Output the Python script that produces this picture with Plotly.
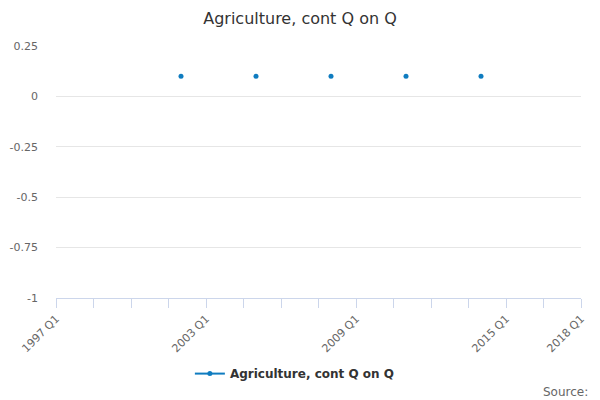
import plotly.graph_objects as go

# Categories: quarters 1997 Q1 .. 2018 Q1
years = list(range(1997, 2019))
quarters = [f"{y} Q{q}" for y in years for q in range(1, 5)]
quarters = quarters[: quarters.index("2018 Q1") + 1]

# Non-missing observations (all other quarters are empty)
obs_quarters = ["2002 Q1", "2005 Q1", "2008 Q1", "2011 Q1", "2014 Q1"]
obs_values = [0.1, 0.1, 0.1, 0.1, 0.1]

series_name = "Agriculture, cont Q on Q"
tick_quarters = ["1997 Q1", "2003 Q1", "2009 Q1", "2015 Q1", "2018 Q1"]
y_ticks = [0.25, 0, -0.25, -0.5, -0.75, -1]
y_tick_labels = ["0.25", "0", "-0.25", "-0.5", "-0.75", "-1"]

lookup = dict(zip(obs_quarters, obs_values))
x_idx = list(range(len(quarters)))
values = [lookup.get(q) for q in quarters]

tickvals = list(range(0, len(quarters), 6))
ticktext = [quarters[i] if quarters[i] in tick_quarters else "" for i in tickvals]

font = "DejaVu Sans, Verdana, sans-serif"
blue = "#0f7cc0"

fig = go.Figure()
fig.add_trace(go.Scatter(
    x=x_idx, y=values, name=series_name,
    mode="lines+markers", connectgaps=False,
    line=dict(color=blue, width=2),
    marker=dict(color=blue, size=5),
    showlegend=True,
))

fig.update_layout(
    width=600, height=400,
    margin=dict(l=56, r=19, t=46, b=102, autoexpand=False),
    paper_bgcolor="white", plot_bgcolor="white",
    font=dict(family=font, color="#666666", size=11),
    title=dict(text=series_name, x=0.5, xanchor="center", y=0.955, yanchor="middle",
               font=dict(family=font, size=16, color="#333333")),
    xaxis=dict(
        range=[0, len(quarters) - 1], tickmode="array",
        tickvals=tickvals, ticktext=ticktext, tickangle=-45,
        ticks="outside", ticklen=9, tickcolor="#ccd6eb", tickwidth=1,
        showline=True, linecolor="#ccd6eb", linewidth=1,
        showgrid=False, zeroline=False, automargin=False,
        tickfont=dict(size=11, color="#666666"),
    ),
    yaxis=dict(
        range=[-1, 0.25], tickmode="array", tickvals=y_ticks, ticktext=y_tick_labels,
        showgrid=True, gridcolor="#e6e6e6", gridwidth=1, zeroline=False,
        showline=False, ticks="", ticklabelstandoff=17, automargin=False,
        tickfont=dict(size=11, color="#666666"),
    ),
    legend=dict(orientation="h", x=0.455, xanchor="center", y=-0.3, yanchor="middle",
                font=dict(family=font, size=12, color="#333333", weight="bold"),
                itemwidth=30),
    annotations=[dict(text="Source:", xref="paper", yref="paper", x=1.018, y=-0.372,
                      xanchor="right", yanchor="middle", showarrow=False,
                      font=dict(family=font, size=12, color="#666666"))],
)

fig.write_html("out.html", config={"displayModeBar": False},
               post_script="document.body.style.margin='0';")
